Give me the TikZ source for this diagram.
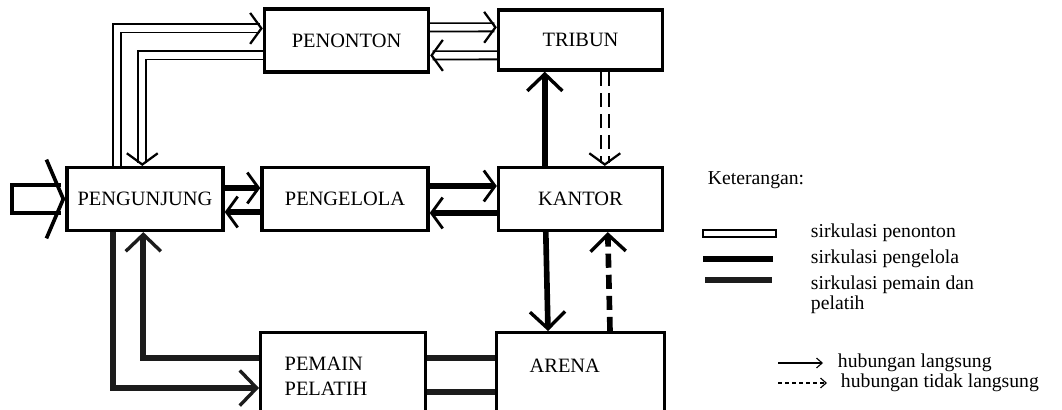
\documentclass[tikz,border=0pt]{standalone}
\usepackage{fontspec}
\setmainfont{Liberation Serif}
\usetikzlibrary{arrows.meta, positioning, calc}
\definecolor{c1}{HTML}{000000}
\definecolor{c2}{HTML}{1C1C1C}

\begin{document}
\begin{tikzpicture}[x=0.025cm, y=-0.025cm,
    every node/.style={font=\fontsize{14}{14}\selectfont},
    box/.style={rectangle, draw=c1, line width=2.4pt, inner sep=0pt,
                minimum width=4.1cm, minimum height=1.57cm,
                font=\fontsize{14.5}{18}\selectfont},
    lab/.style={anchor=west, font=\fontsize{14}{14}\selectfont},
    jalurpenonton/.style={draw=c1, line width=1.3pt, double=white, double distance=4.5pt,
                          -{Straight Barb[length=8pt, width=22pt, line width=1.6pt]}},
    masuk/.style={draw=c1, line width=3pt, double=white, double distance=0.6cm,
                  -{Straight Barb[length=12pt, width=56pt, line width=2.6pt]}},
    jalurpengelola/.style={draw=c1, line width=3.6pt,
                           -{Straight Barb[length=8pt, width=22pt, line width=2pt]}},
    jalurpemain/.style={draw=c2, line width=4.5pt,
                        -{Straight Barb[length=12pt, width=25pt, line width=2.4pt]}},
    utama/.style={draw=c1, line width=4pt,
                  -{Straight Barb[length=12pt, width=25pt, line width=2.4pt]}},
    putus/.style={dash pattern=on 10pt off 5pt},
]
\clip (0,0) rectangle (1062,409);

% ---------------------------------------------------------------- ruang
\node[box] (penonton) at (346.5,40.5) {PENONTON};
\node[box, minimum height=1.5cm] (tribun) at (580.5,40) {TRIBUN};
\node[box, minimum width=3.9cm] (pengunjung) at (145,199) {PENGUNJUNG};
\node[box, minimum width=4.15cm] (pengelola) at (345,199) {PENGELOLA};
\node[box] (kantor) at (580.5,199) {KANTOR};
\node[box, anchor=north west, minimum width=4.125cm, text width=2.925cm, align=left,
      inner xsep=0.6cm, inner ysep=0.6cm] (pemain) at (259,331) {PEMAIN\\PELATIH};
\node[box, anchor=north west, minimum width=4.2cm, text width=2.55cm, align=left,
      text height=10pt, text depth=2cm, inner xsep=0.825cm, inner ysep=0.65cm]
      (arena) at (495,331) {ARENA};

% ---------------------------------------------------------------- sirkulasi penonton
\coordinate (pintu) at (12,199);
\draw[masuk] (pintu) -- (pengunjung.west);
\draw[c1, line width=3.4pt] ($(pintu)+(0,-16)$) -- ($(pintu)+(0,16)$);
\draw[jalurpenonton] ($(pengunjung.north west)+(52,0)$) |- ($(penonton.north west)+(0,21)$);
\draw[jalurpenonton] ($(penonton.north west)+(0,48)$) -| ($(pengunjung.north west)+(77,0)$);
\draw[jalurpenonton] ($(penonton.north east)+(0,20)$) -- ($(tribun.north west)+(0,19)$);
\draw[jalurpenonton] ($(tribun.north west)+(0,47)$) -- ($(penonton.north east)+(0,48)$);
\draw[jalurpenonton, putus] ($(tribun.south west)+(108,0)$) -- ($(kantor.north west)+(108,0)$);

% ---------------------------------------------------------------- sirkulasi pengelola
\draw[jalurpengelola] ($(pengunjung.east)+(0,-11)$) -- ($(pengelola.west)+(0,-11)$);
\draw[jalurpengelola] ($(pengelola.west)+(0,13)$) -- ($(pengunjung.east)+(0,13)$);
\draw[jalurpengelola] ($(pengelola.east)+(0,-13)$) -- ($(kantor.west)+(0,-13)$);
\draw[jalurpengelola] ($(kantor.west)+(0,14)$) -- ($(pengelola.east)+(0,14)$);
\draw[utama] ($(kantor.north west)+(48,0)$) -- ($(tribun.south west)+(48,0)$);
\draw[utama] ($(kantor.south west)+(49,0)$) -- ($(arena.north west)+(53,0)$);
\draw[utama, putus] ($(arena.north west)+(115,0)$) -- ($(kantor.south west)+(111,0)$);

% ---------------------------------------------------------------- sirkulasi pemain dan pelatih
\draw[jalurpemain, -] ($(pemain.north east)+(0,27)$) -- ($(arena.north west)+(0,27)$);
\draw[jalurpemain, -] ($(pemain.north east)+(0,61)$) -- ($(arena.north west)+(0,61)$);
\draw[jalurpemain] ($(pemain.north west)+(0,27)$) -| ($(pengunjung.south west)+(78,0)$);
\draw[jalurpemain] ($(pengunjung.south west)+(48,0)$) |- ($(pemain.north west)+(0,57)$);

% ---------------------------------------------------------------- keterangan
\node[lab] (ket) at (703,180) {Keterangan:};
\draw[c1, line width=1.2pt] (703,230) rectangle (776,237);
\node[lab] (k1) at (806,233) {sirkulasi penonton};
\coordinate (s2) at (703,259);
\draw[jalurpengelola, -] (s2) -- ++(70,0);
\node[lab] (k2) at (806,259) {sirkulasi pengelola};
\coordinate (s3) at (705,280);
\draw[jalurpemain, -] (s3) -- ++(67,0);
\node[lab, anchor=north west, align=left] (k3) at (806,271) {sirkulasi pemain dan\\pelatih};
\coordinate (s4) at (778,363);
\draw[c1, line width=0.8pt, -{Straight Barb[length=4pt, width=7pt]}] (s4) -- ++(45,0);
\node[lab] (k4) at (833,363) {hubungan langsung};
\coordinate (s5) at (778,383);
\draw[c1, line width=0.8pt, dash pattern=on 3pt off 2pt, -{Straight Barb[length=4pt, width=7pt]}] (s5) -- ++(49,0);
\node[lab] (k5) at (836,383) {hubungan tidak langsung};

\end{tikzpicture}
\end{document}
